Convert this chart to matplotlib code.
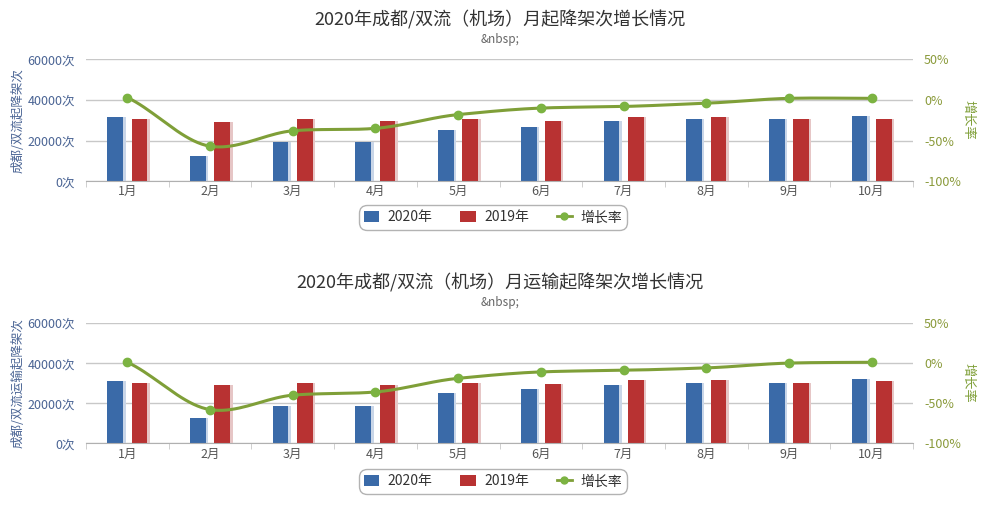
import numpy as np
import matplotlib
matplotlib.use("Agg")
import matplotlib.pyplot as plt
from matplotlib.lines import Line2D
from matplotlib.patches import Patch

plt.rcParams['font.family'] = ['Noto Sans CJK SC', 'DejaVu Sans']

months = ["1月", "2月", "3月", "4月", "5月", "6月", "7月", "8月", "9月", "10月"]

# Top chart: all movements
top_2020 = [31600, 12300, 19200, 19200, 25100, 26700, 29400, 30400, 30800, 32000]
top_2019 = [30500, 28900, 30800, 29500, 30800, 29700, 31500, 31500, 30400, 30800]
top_growth = [3, -57, -38, -35, -18, -10, -8, -4, 2, 2]

# Bottom chart: transport movements
bot_2020 = [30900, 12600, 18800, 18800, 25000, 26900, 28900, 29900, 30200, 32000]
bot_2019 = [30200, 28900, 30200, 28900, 30200, 29400, 31600, 31600, 29900, 30900]
bot_growth = [1, -58, -40, -36, -19, -11, -9, -6, 0, 1]

yticks_left = [0, 20000, 40000, 60000]
yticks_left_labels = ["0次", "20000次", "40000次", "60000次"]
yticks_right = [-100, -50, 0, 50]
yticks_right_labels = ["-100%", "-50%", "0%", "50%"]

C2020 = "#3a6aa8"
C2019 = "#b83232"
CLINE = "#7f9f38"
CMARK = "#7cb342"
CBLUE_TXT = "#4a6494"
CGREEN_TXT = "#8a9a3a"
CGRID = "#c8c8c8"


def spline(x, y, n=20):
    x = np.asarray(x, float)
    y = np.asarray(y, float)
    m = np.zeros_like(y)
    m[1:-1] = (y[2:] - y[:-2]) / 2.0
    m[0] = y[1] - y[0]
    m[-1] = y[-1] - y[-2]
    xs, ys = [], []
    for i in range(len(x) - 1):
        t = np.linspace(0, 1, n, endpoint=(i == len(x) - 2))
        h00 = 2 * t**3 - 3 * t**2 + 1
        h10 = t**3 - 2 * t**2 + t
        h01 = -2 * t**3 + 3 * t**2
        h11 = t**3 - t**2
        xs.append(x[i] + t * (x[i + 1] - x[i]))
        ys.append(h00 * y[i] + h10 * m[i] * 0.8 + h01 * y[i + 1] + h11 * m[i + 1] * 0.8)
    return np.concatenate(xs), np.concatenate(ys)


fig = plt.figure(figsize=(10, 5.28), dpi=100)


def draw_chart(rect, title, ylabel, v2020, v2019, growth, title_y, legend_y):
    ax = fig.add_axes(rect)
    x = np.arange(len(months))
    w = 0.19
    off = 0.147
    # subtle shadows
    ax.bar(x - off + 0.03, v2020, w, color="#c9d6e8", zorder=1)
    ax.bar(x + off + 0.03, v2019, w, color="#e6c6c6", zorder=1)
    ax.bar(x - off, v2020, w, color=C2020, zorder=2)
    ax.bar(x + off, v2019, w, color=C2019, zorder=2)
    ax.set_xlim(-0.5, len(months) - 0.5)
    ax.set_ylim(0, 60000)
    ax.set_yticks(yticks_left)
    ax.set_yticklabels(yticks_left_labels, color=CBLUE_TXT, fontsize=9)
    ax.yaxis.grid(True, color=CGRID, linewidth=1, zorder=0)
    ax.set_axisbelow(True)
    ax.tick_params(axis='y', length=0, pad=8)
    ax.set_xticks(x)
    ax.set_xticklabels(months, color="#555555", fontsize=9)
    ax.set_xticks(np.arange(-0.5, len(months)), minor=True)
    ax.tick_params(axis='x', which='major', length=0, pad=3)
    ax.tick_params(axis='x', which='minor', length=4, color=CGRID)
    for s in ["top", "right", "left"]:
        ax.spines[s].set_visible(False)
    ax.spines["bottom"].set_color("#b0b0b0")
    ax.set_ylabel(ylabel, color=CBLUE_TXT, fontsize=9, labelpad=2)

    ax2 = ax.twinx()
    ax2.set_ylim(-100, 50)
    ax2.set_yticks(yticks_right)
    ax2.set_yticklabels(yticks_right_labels, color=CGREEN_TXT, fontsize=9)
    ax2.tick_params(axis='y', length=0, pad=8)
    for s in ["top", "right", "left", "bottom"]:
        ax2.spines[s].set_visible(False)
    ax2.set_ylabel("增长率", color=CLINE, fontsize=9.5, rotation=270, labelpad=10)
    sx, sy = spline(x, growth)
    ax2.plot(sx, sy, color=CLINE, linewidth=2.2, zorder=3)
    ax2.plot(x, growth, linestyle="none", marker="o", markersize=6,
             color=CMARK, zorder=4)

    fig.text(0.5, title_y, title, ha="center", va="center", fontsize=13, color="#333333")
    fig.text(0.5, title_y - 0.037, "&nbsp;", ha="center", va="center", fontsize=8.5, color="#666666")

    handles = [Patch(facecolor=C2020), Patch(facecolor=C2019),
               Line2D([0], [0], color=CLINE, marker="o", markersize=5, linewidth=2,
                      markerfacecolor=CMARK, markeredgecolor=CMARK)]
    leg = fig.legend(handles, ["2020年", "2019年", "增长率"], loc="center",
                     bbox_to_anchor=(0.493, legend_y), ncol=3, frameon=True,
                     fontsize=10, handlelength=1.1, handleheight=0.9,
                     columnspacing=2.0, handletextpad=0.6, borderpad=0.2)
    frame = leg.get_frame()
    frame.set_edgecolor("#a0a0a0")
    frame.set_boxstyle("round,pad=0.2,rounding_size=0.6")
    frame.set_linewidth(1.0)
    for t in leg.get_texts():
        t.set_color("#333333")
    return ax


draw_chart([0.086, 0.657, 0.827, 0.2305],
           "2020年成都/双流（机场）月起降架次增长情况", "成都/双流起降架次",
           top_2020, top_2019, top_growth, 1 - 20 / 528, 1 - 217.5 / 528)
draw_chart([0.086, 0.1604, 0.827, 0.2279],
           "2020年成都/双流（机场）月运输起降架次增长情况", "成都/双流运输起降架次",
           bot_2020, bot_2019, bot_growth, 1 - 283 / 528, 1 - 481.5 / 528)

fig.savefig("out.png", dpi=100, facecolor="white")
